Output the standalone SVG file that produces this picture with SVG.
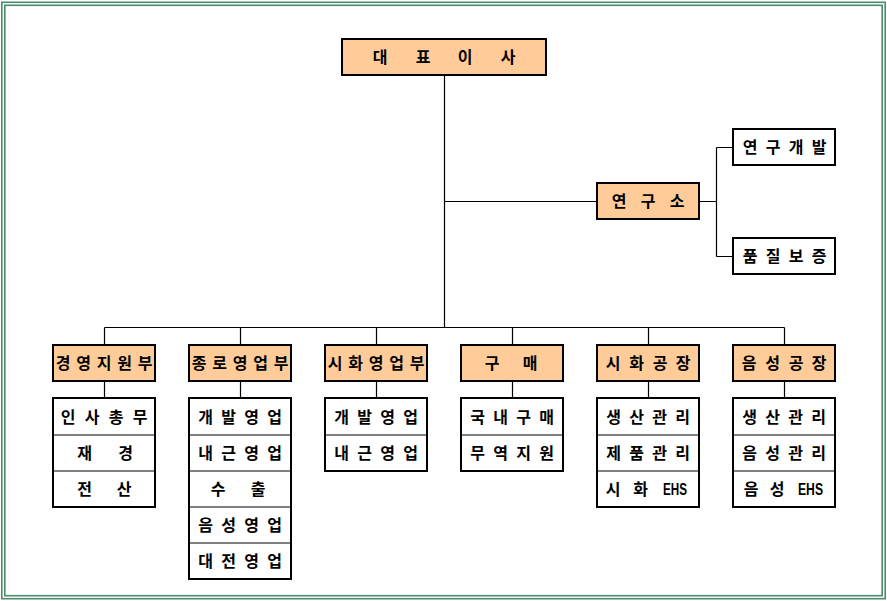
<svg xmlns="http://www.w3.org/2000/svg" width="887" height="601" viewBox="0 0 887 601">
<style>
.frame{fill:none;stroke:#4A8C6C;stroke-width:1.6}
.conn{fill:none;stroke:#000;stroke-width:1.2}
.head{fill:#FFCC99;stroke:#000;stroke-width:2}
.sub{fill:#FFFFFF;stroke:#000;stroke-width:2}
text{font-family:"Noto Sans CJK KR","Noto Sans",sans-serif;font-size:16px;font-weight:bold;fill:#000;text-anchor:middle}
.en{font-family:"Liberation Sans","Noto Sans",sans-serif;font-size:16px}
</style>
<rect width="887" height="601" fill="#FFFFFF"/>
<rect class="frame" x="1.8" y="2.3" width="883.4" height="596.4"/>
<rect class="frame" x="4.8" y="5.3" width="877.4" height="590.4"/>
<g id="connectors">
<path class="conn" d="M444.5 75 V327.5"/>
<path class="conn" d="M444.5 201.5 H597"/>
<path class="conn" d="M699 201.5 H716.5 M716.5 147.5 V256.5 M716.5 147.5 H733 M716.5 256.5 H733"/>
<path class="conn" d="M104.5 327.5 H784.5"/>
<path class="conn" d="M104.5 327.5 V345 M240.5 327.5 V345 M376.5 327.5 V345 M512.5 327.5 V345 M648.5 327.5 V345 M784.5 327.5 V345"/>
<path class="conn" d="M104.5 381 V398 M240.5 381 V398 M376.5 381 V398 M512.5 381 V398 M648.5 381 V398 M784.5 381 V398"/>
</g>
<g id="ceo">
<rect class="head" x="342" y="39" width="204" height="36"/>
<text x="380 423 465 508" y="62.5">대표이사</text>
</g>
<g id="lab">
<rect class="head" x="597" y="183" width="102" height="36"/>
<text x="619 648 677" y="207">연구소</text>
</g>
<g id="rnd">
<rect class="sub" x="733" y="129" width="102" height="36"/>
<text x="750 773 796 819" y="153">연구개발</text>
</g>
<g id="qa">
<rect class="sub" x="733" y="238" width="102" height="36"/>
<text x="750 773 796 819" y="262">품질보증</text>
</g>
<g id="mgmt">
<rect class="head" x="53" y="345" width="102" height="36"/>
<text x="63 83.5 104 124.5 145" y="369">경영지원부</text>
<rect class="sub" x="53" y="398" width="102" height="109"/>
<path class="conn" d="M53 435 H155 M53 471 H155" stroke-width="2"/>
<text x="68 92 116 140" y="422.5">인사총무</text>
<text x="84.5 125.5" y="459">재경</text>
<text x="84.5 124" y="495">전산</text>
</g>
<g id="jongno">
<rect class="head" x="189" y="345" width="102" height="36"/>
<text x="199 219.5 240 260.5 281" y="369">종로영업부</text>
<rect class="sub" x="189" y="398" width="102" height="181"/>
<path class="conn" d="M189 435 H291 M189 471 H291 M189 507 H291 M189 543 H291" stroke-width="2"/>
<text x="205.5 228.5 251.5 274.5" y="422.5">개발영업</text>
<text x="205.5 228.5 251.5 274.5" y="459">내근영업</text>
<text x="218 258" y="495">수출</text>
<text x="205.5 228.5 251.5 274.5" y="531">음성영업</text>
<text x="205.5 228.5 251.5 274.5" y="567">대전영업</text>
</g>
<g id="sihwa-sales">
<rect class="head" x="325" y="345" width="102" height="36"/>
<text x="335 355.5 376 396.5 417" y="369">시화영업부</text>
<rect class="sub" x="325" y="398" width="102" height="73"/>
<path class="conn" d="M325 435 H427" stroke-width="2"/>
<text x="341.5 364.5 387.5 410.5" y="422.5">개발영업</text>
<text x="341.5 364.5 387.5 410.5" y="459">내근영업</text>
</g>
<g id="purchase">
<rect class="head" x="461" y="345" width="102" height="36"/>
<text x="492 530" y="369">구매</text>
<rect class="sub" x="461" y="398" width="102" height="73"/>
<path class="conn" d="M461 435 H563" stroke-width="2"/>
<text x="477.5 500.5 523.5 546.5" y="422.5">국내구매</text>
<text x="477.5 500.5 523.5 546.5" y="459">무역지원</text>
</g>
<g id="sihwa-plant">
<rect class="head" x="597" y="345" width="102" height="36"/>
<text x="613 636.5 660 683" y="369">시화공장</text>
<rect class="sub" x="597" y="398" width="102" height="109"/>
<path class="conn" d="M597 435 H699 M597 471 H699" stroke-width="2"/>
<text x="613.5 636.5 659.5 682.5" y="422.5">생산관리</text>
<text x="613.5 636.5 659.5 682.5" y="459">제품관리</text>
<text x="613 640.5" y="495">시화</text>
<text class="en" x="675" y="494.5" textLength="24" lengthAdjust="spacingAndGlyphs">EHS</text>
</g>
<g id="eumseong-plant">
<rect class="head" x="733" y="345" width="102" height="36"/>
<text x="749 772.5 796 819" y="369">음성공장</text>
<rect class="sub" x="733" y="398" width="102" height="109"/>
<path class="conn" d="M733 435 H835 M733 471 H835" stroke-width="2"/>
<text x="749.5 772.5 795.5 818.5" y="422.5">생산관리</text>
<text x="749.5 772.5 795.5 818.5" y="459">음성관리</text>
<text x="751 777" y="495">음성</text>
<text class="en" x="810.5" y="494.5" textLength="25" lengthAdjust="spacingAndGlyphs">EHS</text>
</g>
</svg>
